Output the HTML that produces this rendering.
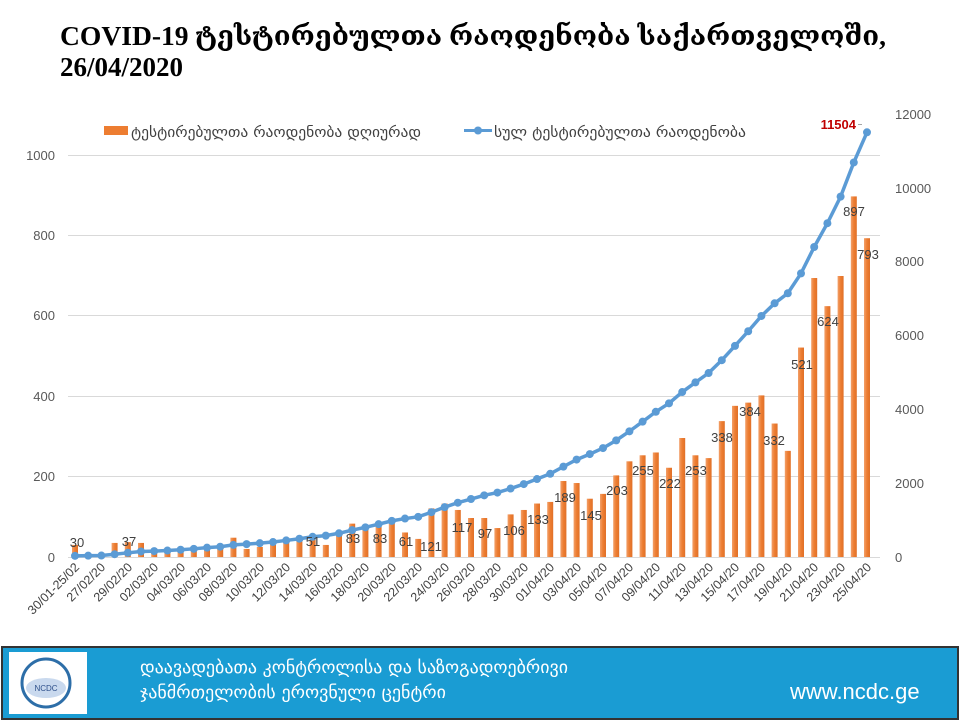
<!DOCTYPE html>
<html><head><meta charset="utf-8"><style>
html,body{margin:0;padding:0;background:#fff;width:960px;height:720px;overflow:hidden}
svg{display:block}
.t{font-family:"Liberation Serif","DejaVu Serif",serif;font-weight:bold;font-size:27px;fill:#000}
.ax{font-family:"Liberation Sans","DejaVu Sans",sans-serif;font-size:13px;fill:#595959}
.xl{font-family:"Liberation Sans","DejaVu Sans",sans-serif;font-size:12.5px;fill:#404040}
.dl{font-family:"Liberation Sans","DejaVu Sans",sans-serif;font-size:13px;fill:#404040;text-anchor:middle}
.lg{font-family:"DejaVu Sans",sans-serif;font-size:14.5px;fill:#404040}
.ft{font-family:"DejaVu Sans",sans-serif;font-size:17px;fill:#fff}
</style></head><body>
<svg id="s" width="960" height="720" viewBox="0 0 960 720" xmlns="http://www.w3.org/2000/svg">
<defs><linearGradient id="bg" x1="0" x2="1" y1="0" y2="0"><stop offset="0" stop-color="#f2a06a"/><stop offset="0.5" stop-color="#ed7d31"/><stop offset="1" stop-color="#e07028"/></linearGradient></defs>
<text class="t" x="60" y="45" textLength="826" lengthAdjust="spacingAndGlyphs">COVID-19 ტესტირებულთა რაოდენობა საქართველოში,</text>
<text class="t" x="60" y="76">26/04/2020</text>
<g stroke="#d9d9d9" stroke-width="1">
<line x1="68" x2="880" y1="155.5" y2="155.5"/><line x1="68" x2="880" y1="235.5" y2="235.5"/>
<line x1="68" x2="880" y1="315.5" y2="315.5"/><line x1="68" x2="880" y1="396.5" y2="396.5"/>
<line x1="68" x2="880" y1="476.5" y2="476.5"/><line x1="68" x2="880" y1="557.5" y2="557.5"/>
</g>
<g class="ax" text-anchor="end">
<text x="55" y="160">1000</text><text x="55" y="240">800</text><text x="55" y="320">600</text>
<text x="55" y="401">400</text><text x="55" y="481">200</text><text x="55" y="562">0</text>
</g>
<g class="ax">
<text x="895" y="119">12000</text><text x="895" y="193">10000</text><text x="895" y="266">8000</text>
<text x="895" y="340">6000</text><text x="895" y="414">4000</text><text x="895" y="488">2000</text><text x="895" y="562">0</text>
</g>
<rect x="104" y="126" width="24" height="9" fill="#ed7d31"/>
<text class="lg" x="131" y="137" textLength="290" lengthAdjust="spacingAndGlyphs">ტესტირებულთა რაოდენობა დღიურად</text>
<line x1="464" x2="492" y1="130.5" y2="130.5" stroke="#5b9bd5" stroke-width="3"/>
<circle cx="478" cy="130.5" r="4" fill="#5b9bd5"/>
<text class="lg" x="494" y="137" textLength="252" lengthAdjust="spacingAndGlyphs">სულ ტესტირებულთა რაოდენობა</text>
<g id="bars"></g>
<g id="line"></g>
<g class="dl">
<text x="77" y="547">30</text><text x="129" y="546">37</text><text x="313" y="546">51</text>
<text x="353" y="543">83</text><text x="380" y="543">83</text><text x="406" y="546">61</text>
<text x="431" y="551">121</text><text x="462" y="532">117</text><text x="485" y="538">97</text>
<text x="514" y="535">106</text><text x="538" y="524">133</text><text x="565" y="502">189</text>
<text x="591" y="520">145</text><text x="617" y="495">203</text><text x="643" y="475">255</text>
<text x="670" y="488">222</text><text x="696" y="475">253</text><text x="722" y="442">338</text>
<text x="750" y="416">384</text><text x="774" y="445">332</text><text x="802" y="369">521</text>
<text x="828" y="326">624</text><text x="854" y="216">897</text><text x="868" y="259">793</text>
</g>
<text x="856" y="129" text-anchor="end" style="font-family:'Liberation Sans',sans-serif;font-size:13px;font-weight:bold;fill:#c00000">11504</text>
<line x1="858" x2="862" y1="124.5" y2="124.5" stroke="#a6a6a6"/>
<g class="xl" text-anchor="end">
<text transform="translate(80,568) rotate(-45)">30/01-25/02</text>
<text transform="translate(106,568) rotate(-45)">27/02/20</text>
<text transform="translate(133,568) rotate(-45)">29/02/20</text>
<text transform="translate(159,568) rotate(-45)">02/03/20</text>
<text transform="translate(186,568) rotate(-45)">04/03/20</text>
<text transform="translate(212,568) rotate(-45)">06/03/20</text>
<text transform="translate(238,568) rotate(-45)">08/03/20</text>
<text transform="translate(265,568) rotate(-45)">10/03/20</text>
<text transform="translate(291,568) rotate(-45)">12/03/20</text>
<text transform="translate(318,568) rotate(-45)">14/03/20</text>
<text transform="translate(344,568) rotate(-45)">16/03/20</text>
<text transform="translate(370,568) rotate(-45)">18/03/20</text>
<text transform="translate(397,568) rotate(-45)">20/03/20</text>
<text transform="translate(423,568) rotate(-45)">22/03/20</text>
<text transform="translate(450,568) rotate(-45)">24/03/20</text>
<text transform="translate(476,568) rotate(-45)">26/03/20</text>
<text transform="translate(502,568) rotate(-45)">28/03/20</text>
<text transform="translate(529,568) rotate(-45)">30/03/20</text>
<text transform="translate(555,568) rotate(-45)">01/04/20</text>
<text transform="translate(582,568) rotate(-45)">03/04/20</text>
<text transform="translate(608,568) rotate(-45)">05/04/20</text>
<text transform="translate(634,568) rotate(-45)">07/04/20</text>
<text transform="translate(661,568) rotate(-45)">09/04/20</text>
<text transform="translate(687,568) rotate(-45)">11/04/20</text>
<text transform="translate(714,568) rotate(-45)">13/04/20</text>
<text transform="translate(740,568) rotate(-45)">15/04/20</text>
<text transform="translate(766,568) rotate(-45)">17/04/20</text>
<text transform="translate(793,568) rotate(-45)">19/04/20</text>
<text transform="translate(819,568) rotate(-45)">21/04/20</text>
<text transform="translate(846,568) rotate(-45)">23/04/20</text>
<text transform="translate(872,568) rotate(-45)">25/04/20</text>
</g>
<rect x="2" y="647" width="956" height="72" fill="#1a9cd3" stroke="#333" stroke-width="2"/>
<rect x="9" y="652" width="78" height="62" fill="#fff"/>
<circle cx="46" cy="683" r="24" fill="none" stroke="#2d6ea8" stroke-width="3"/>
<ellipse cx="46" cy="688" rx="20" ry="10" fill="#c9d9ee"/>
<text x="46" y="691" text-anchor="middle" style="font-family:'Liberation Sans',sans-serif;font-size:8px;fill:#2d4f8a">NCDC</text>
<text class="ft" x="140" y="673" textLength="428" lengthAdjust="spacingAndGlyphs">დაავადებათა კონტროლისა და საზოგადოებრივი</text>
<text class="ft" x="140" y="698" textLength="306" lengthAdjust="spacingAndGlyphs">ჯანმრთელობის ეროვნული ცენტრი</text>
<text x="790" y="699" style="font-family:'Liberation Sans',sans-serif;font-size:22px;fill:#fff">www.ncdc.ge</text>
</svg>
<script>
var d=[30,5,3,35,37,35,10,15,20,25,30,25,48,20,25,30,42,45,51,30,62,83,73,83,87,61,45,121,133,117,97,72,106,117,133,137,189,184,145,157,203,238,253,260,222,296,253,246,338,376,384,402,332,264,521,694,624,699,897,793];
d.splice(30,0,97);
var NS="http://www.w3.org/2000/svg",b=document.getElementById("bars"),l=document.getElementById("line");
var tot=0;d.forEach(function(v){tot+=v});var k=11504/tot,c=0,pts=[];
d.forEach(function(v,i){var x=75+13.2*i,h=v*0.402;
var r=document.createElementNS(NS,"rect");r.setAttribute("x",x-3);r.setAttribute("y",557-h);r.setAttribute("width",6);r.setAttribute("height",h);r.setAttribute("fill","url(#bg)");b.appendChild(r);
c+=v;var y=557-c*k*0.03692;pts.push([x,y]);});
var p=document.createElementNS(NS,"polyline");p.setAttribute("points",pts.map(function(q){return q[0]+","+q[1]}).join(" "));
p.setAttribute("fill","none");p.setAttribute("stroke","#5b9bd5");p.setAttribute("stroke-width","3.5");l.appendChild(p);
pts.forEach(function(q){var e=document.createElementNS(NS,"circle");e.setAttribute("cx",q[0]);e.setAttribute("cy",q[1]);e.setAttribute("r",4);e.setAttribute("fill","#5b9bd5");l.appendChild(e);});
</script>
</body></html>
